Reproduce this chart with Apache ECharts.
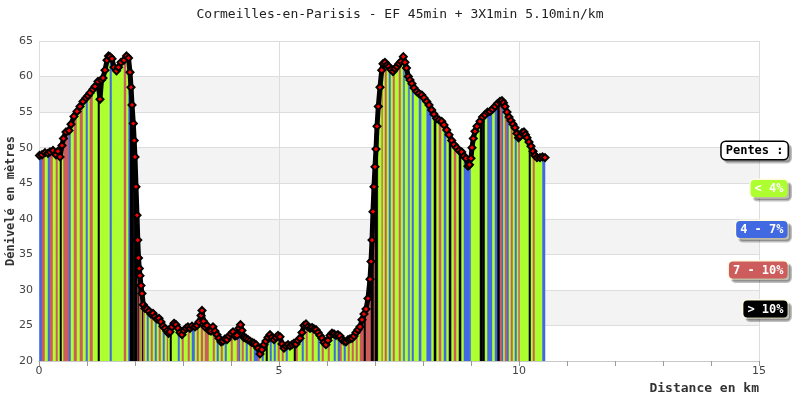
<!DOCTYPE html>
<html>
<head>
<meta charset="utf-8">
<script src="https://cdn.jsdelivr.net/npm/echarts@6/dist/echarts.min.js"></script>
<style>html,body{margin:0;padding:0;background:#fff}#chart{width:800px;height:400px}</style>
</head>
<body>
<div id="chart"></div>
<script>
const titleText = 'Cormeilles-en-Parisis - EF 45min + 3X1min 5.10min/km';
const xAxisName = 'Distance en km';
const yAxisName = 'Dénivelé en mètres';
const legendTitle = 'Pentes :';
const slopeLabels = ['< 4%', '4 - 7%', '7 - 10%', '> 10%'];
const slopeColors = ['#adff2f', '#4169e1', '#cd5c5c', '#000000'];

// distance (km)
const distance = [
0.010,0.063,0.125,0.188,0.229,0.292,0.354,0.396,0.438,0.479,
0.510,0.563,0.625,0.667,0.729,0.792,0.854,0.917,0.979,1.021,
1.063,1.125,1.167,1.229,1.271,1.302,1.333,1.375,1.417,1.448,
1.479,1.521,1.563,1.615,1.656,1.708,1.771,1.823,1.865,1.896,
1.917,1.938,1.965,1.983,2.000,2.021,2.042,2.058,2.073,2.090,
2.104,2.125,2.146,2.173,2.208,2.250,2.292,2.333,2.375,2.417,
2.458,2.500,2.542,2.583,2.625,2.667,2.698,2.729,2.771,2.813,
2.854,2.896,2.938,2.979,3.021,3.063,3.104,3.146,3.188,3.250,
3.292,3.333,3.375,3.396,3.427,3.458,3.500,3.542,3.583,3.625,
3.667,3.708,3.750,3.792,3.833,3.875,3.917,3.958,4.000,4.042,
4.083,4.125,4.167,4.198,4.229,4.271,4.313,4.354,4.396,4.438,
4.479,4.521,4.563,4.604,4.646,4.688,4.729,4.771,4.813,4.854,
4.896,4.938,4.979,5.021,5.063,5.104,5.146,5.188,5.229,5.271,
5.313,5.354,5.396,5.438,5.479,5.521,5.563,5.604,5.646,5.688,
5.729,5.771,5.813,5.854,5.896,5.938,5.979,6.021,6.063,6.104,
6.146,6.188,6.229,6.271,6.313,6.354,6.396,6.438,6.479,6.521,
6.563,6.604,6.646,6.688,6.729,6.771,6.813,6.854,6.896,6.917,
6.938,6.958,6.979,7.000,7.021,7.042,7.069,7.104,7.140,7.167,
7.208,7.250,7.292,7.333,7.375,7.417,7.458,7.500,7.542,7.590,
7.625,7.656,7.694,7.729,7.771,7.813,7.869,7.917,7.973,8.021,
8.077,8.125,8.181,8.229,8.285,8.333,8.390,8.438,8.494,8.542,
8.598,8.646,8.702,8.750,8.806,8.854,8.896,8.938,8.969,9.000,
9.021,9.048,9.083,9.125,9.188,9.240,9.292,9.344,9.396,9.448,
9.500,9.552,9.604,9.646,9.677,9.708,9.750,9.792,9.833,9.875,
9.917,9.958,9.990,10.021,10.063,10.104,10.135,10.167,10.208,10.250,
10.292,10.333,10.375,10.438,10.490,10.542
];

// elevation (m)
const elevation = [
48.9,49.0,49.3,49.2,49.4,49.6,49.0,49.5,48.7,50.3,
51.3,52.2,52.4,53.3,54.4,55.1,55.8,56.5,57.0,57.3,
57.7,58.2,58.6,59.3,56.8,59.5,59.8,60.9,62.3,62.9,
62.8,62.5,61.3,60.8,61.3,62.0,62.3,62.9,62.6,60.6,
58.5,56.0,53.4,51.0,48.7,44.5,40.5,37.0,34.5,33.0,
32.0,30.6,29.5,27.9,27.4,27.3,27.0,26.6,26.7,26.2,
25.9,26.0,25.5,24.9,24.6,24.2,23.9,24.1,24.8,25.3,
25.1,24.6,24.0,23.7,24.3,24.6,24.8,24.6,24.9,24.8,
25.0,25.5,26.4,27.1,25.6,24.8,25.0,24.3,24.2,24.8,
24.2,23.7,23.2,22.7,22.8,23.1,23.0,23.5,23.8,24.1,
23.5,23.6,24.6,25.1,24.3,23.3,23.2,23.0,22.8,22.6,
22.5,22.3,21.8,21.0,21.6,22.3,22.8,23.3,23.7,23.3,
23.0,23.3,23.6,23.4,22.4,21.8,22.1,22.3,22.1,22.3,
22.5,22.4,22.9,23.2,24.0,25.0,25.2,24.8,24.6,24.7,
24.5,24.4,24.0,23.6,23.2,22.6,22.3,22.9,23.6,23.9,
23.8,23.6,23.7,23.5,23.0,22.8,22.7,23.0,23.1,23.2,
23.5,24.0,24.4,24.8,25.8,26.6,27.3,28.8,31.5,34.0,
37.0,41.0,44.5,47.3,49.8,53.0,55.8,58.5,60.9,61.8,
62.0,61.6,61.4,61.0,60.7,61.1,61.4,61.8,62.1,62.8,
62.0,61.2,60.0,59.5,59.0,58.4,57.9,57.6,57.4,57.0,
56.5,56.0,55.3,54.7,54.1,53.9,53.7,53.2,52.5,51.8,
51.0,50.4,50.0,49.6,49.4,48.8,48.5,47.4,47.6,48.5,
50.0,51.3,52.3,53.0,53.7,54.3,54.6,55.0,55.1,55.4,
55.8,56.2,56.5,56.6,56.3,55.8,55.0,54.3,53.8,53.3,
52.8,52.0,51.4,51.6,52.1,52.2,51.8,51.4,50.8,50.2,
49.5,48.9,48.6,48.6,48.7,48.6
];

// slope class of the stripe starting at each point (0:<4%, 1:4-7%, 2:7-10%, 3:>10%)
const slopeClass = [
1,2,0,1,2,0,2,0,3,0,
2,2,1,0,2,0,2,0,1,0,
2,0,0,3,0,0,0,0,0,0,
1,0,0,0,0,0,2,0,1,3,
3,3,3,3,3,3,3,2,3,2,
2,0,3,2,0,1,0,2,0,1,
0,2,0,1,0,2,0,3,0,0,
0,1,0,2,0,0,2,0,1,0,
2,0,2,2,0,2,2,0,0,2,
0,1,0,2,0,1,0,0,2,0,
0,2,1,0,2,0,1,0,2,0,
1,1,2,0,1,0,3,0,1,0,
1,0,2,0,2,0,1,0,0,0,
3,2,0,0,1,0,2,0,0,2,
0,0,1,0,2,0,0,2,0,0,
1,0,1,2,0,1,0,2,0,2,
0,2,0,2,2,3,2,2,2,3,
3,3,2,3,3,3,0,0,2,0,
2,0,1,0,2,0,0,2,0,1,
0,0,1,0,1,0,0,1,0,0,
1,1,0,3,0,2,0,1,0,3,
0,2,0,3,0,1,1,1,1,0,
0,0,0,0,3,3,0,1,1,0,
1,3,2,1,0,2,1,0,2,0,
1,0,2,0,0,0,0,0,3,0,
2,0,0,0,1,0
];

const xTicks = {min: 0, max: 15, interval: 5};
const yTicks = {min: 20, max: 65, interval: 5};

const linePts = distance.map((d, i) => [d, elevation[i]]);
const stripes = [];
for (let i = 0; i < distance.length - 1; i++) {
  stripes.push([distance[i], elevation[i], distance[i + 1], elevation[i + 1], slopeClass[i]]);
}

const mono = "'DejaVu Sans Mono', monospace";
const legendItems = [
  {text: legendTitle, y: 149.5, bg: '#ffffff', fg: '#000000', border: '#000000'},
  {text: slopeLabels[0], y: 187.5, bg: slopeColors[0], fg: '#ffffff', border: '#fffbe0'},
  {text: slopeLabels[1], y: 228.5, bg: slopeColors[1], fg: '#ffffff', border: '#fffbe0'},
  {text: slopeLabels[2], y: 269, bg: slopeColors[2], fg: '#ffffff', border: '#fffbe0'},
  {text: slopeLabels[3], y: 308, bg: slopeColors[3], fg: '#ffffff', border: '#fffbe0'}
];

const chart = echarts.init(document.getElementById('chart'), null, {renderer: 'canvas'});
chart.setOption({
  animation: false,
  backgroundColor: '#ffffff',
  title: {
    text: titleText, left: 'center', top: 3,
    textStyle: {fontFamily: mono, fontSize: 13, fontWeight: 'normal', color: '#222222'}
  },
  grid: {left: 39, right: 41, top: 41, bottom: 39, containLabel: false, outerBoundsMode: 'none'},
  xAxis: {
    type: 'value', min: xTicks.min, max: xTicks.max, interval: xTicks.interval,
    name: xAxisName, nameLocation: 'end', nameGap: 0,
    nameTextStyle: {fontFamily: mono, fontSize: 13, fontWeight: 'bold', color: '#333333',
      align: 'right', verticalAlign: 'top', padding: [21, 0, 0, 0]},
    axisLine: {show: true, lineStyle: {color: '#c8c8c8', width: 1}},
    axisTick: {show: true, length: 5, lineStyle: {color: '#999999'}},
    minorTick: {show: true, splitNumber: 5, length: 5, lineStyle: {color: '#999999'}},
    axisLabel: {color: '#444444', fontSize: 11, fontFamily: "'DejaVu Sans', sans-serif", margin: 5},
    splitLine: {show: true, lineStyle: {color: '#dddddd'}}
  },
  yAxis: {
    type: 'value', min: yTicks.min, max: yTicks.max, interval: yTicks.interval,
    name: yAxisName, nameLocation: 'middle', nameRotate: 90, nameGap: 22, nameMoveOverlap: false,
    nameTextStyle: {fontFamily: mono, fontSize: 12, fontWeight: 'bold', color: '#333333'},
    axisLine: {show: false},
    axisTick: {show: false},
    axisLabel: {color: '#444444', fontSize: 11, fontFamily: "'DejaVu Sans', sans-serif", margin: 6},
    splitLine: {show: true, lineStyle: {color: '#dddddd'}},
    splitArea: {show: true, areaStyle: {color: ['rgba(255,255,255,0)', '#f3f3f3']}}
  },
  graphic: legendItems.map(it => ({
    type: 'text', right: 11, top: it.y - 9, z: 100,
    style: {
      text: it.text, font: "bold 12px 'DejaVu Sans Mono', monospace",
      fill: it.fg, backgroundColor: it.bg, borderColor: it.border, borderWidth: 1.5,
      borderRadius: 4, padding: [3, 4, 2, 4],
      shadowColor: 'rgba(0,0,0,0.25)', shadowBlur: 0, shadowOffsetX: 3, shadowOffsetY: 3
    }
  })),
  series: [
    {
      type: 'custom', z: 1, clip: true,
      data: stripes,
      encode: {x: [0, 2], y: [1, 3]},
      renderItem: function (params, api) {
        const x0 = api.value(0), y0 = api.value(1), x1 = api.value(2), y1 = api.value(3), c = api.value(4);
        const base = yTicks.min;
        const p = [api.coord([x0, base]), api.coord([x0, y0]), api.coord([x1, y1]), api.coord([x1, base])];
        return {type: 'polygon', shape: {points: p},
          style: {fill: slopeColors[c], stroke: slopeColors[c], lineWidth: 0.5}};
      }
    },
    {
      type: 'line', z: 3, data: linePts,
      lineStyle: {color: '#000000', width: 5},
      symbol: 'diamond', symbolSize: 7, showAllSymbol: true,
      itemStyle: {color: '#ff0000', borderColor: '#000000', borderWidth: 2},
      emphasis: {disabled: true}
    }
  ]
});
</script>
</body>
</html>
